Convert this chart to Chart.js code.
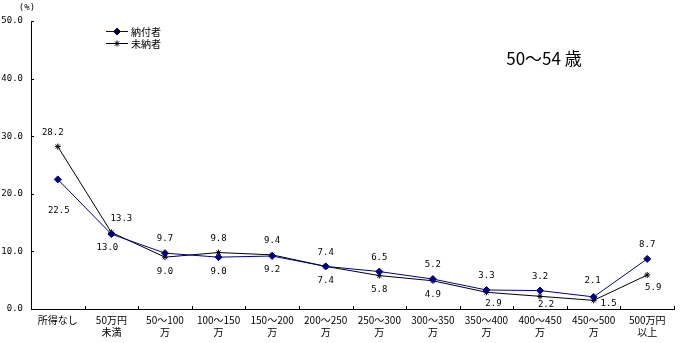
<!DOCTYPE html>
<html>
<head>
<meta charset="utf-8">
<script src="https://cdn.jsdelivr.net/npm/chart.js@4/dist/chart.umd.min.js"></script>
<style>
    html, body { margin: 0; padding: 0; background: #fff; }
    #wrap { width: 680px; height: 343px; position: relative; }
</style>
</head>
<body>
<div id="wrap"><canvas id="lineChart"></canvas></div>
<script>

const categories = [
    ['所得なし'], ['50万円', '未満'], ['50～100', '万'], ['100～150', '万'],
    ['150～200', '万'], ['200～250', '万'], ['250～300', '万'], ['300～350', '万'],
    ['350～400', '万'], ['400～450', '万'], ['450～500', '万'], ['500万円', '以上']
];
const paid = [22.5, 13.0, 9.7, 9.0, 9.2, 7.4, 6.5, 5.2, 3.3, 3.2, 2.1, 8.7];
const unpaid = [28.2, 13.3, 9.0, 9.8, 9.4, 7.4, 5.8, 4.9, 2.9, 2.2, 1.5, 5.9];
const seriesNames = ['納付者', '未納者'];
const yTicks = [0, 10, 20, 30, 40, 50];
const title = '50～54 歳';

const FONT = '"Noto Sans CJK JP", "DejaVu Sans", sans-serif';
const NUM_FONT = '"DejaVu Sans Mono", monospace';

// a few labels sit away from their points
const labelShift = {
    '0:0': [1, 17],
    '1:0': [-5, 0],
    '1:1': [10, 0],
    '0:1': [-4, 0],
    '0:10': [-1, -2],
    '1:8': [7, -3],
    '1:9': [6, -6],
    '1:10': [15, -11],
    '1:11': [6, -1],
};

// ticks drawn inward, data labels, legend and title
const decorations = {
    id: 'decorations',
    afterDraw(chart) {
        const { ctx, chartArea, scales } = chart;
        const x = scales.x, y = scales.y;
        ctx.save();
        ctx.strokeStyle = '#000';
        ctx.lineWidth = 1;

        // y ticks
        yTicks.forEach(v => {
            const py = Math.round(y.getPixelForValue(v)) + 0.5;
            ctx.beginPath();
            ctx.moveTo(chartArea.left, py);
            ctx.lineTo(chartArea.left + 3, py);
            ctx.stroke();
        });
        // x ticks between categories
        const step = (chartArea.right - chartArea.left) / categories.length;
        for (let i = 1; i <= categories.length; i++) {
            const px = Math.round(x.getPixelForValue(i - 1) + step / 2) + 0.5;
            ctx.beginPath();
            ctx.moveTo(px, chartArea.bottom);
            ctx.lineTo(px, chartArea.bottom - 3);
            ctx.stroke();
        }

        // value labels
        ctx.fillStyle = '#000';
        ctx.font = '9px ' + NUM_FONT;
        ctx.textAlign = 'center';
        ctx.textBaseline = 'middle';
        chart.data.datasets.forEach((ds, d) => {
            const other = chart.data.datasets[1 - d].data;
            const meta = chart.getDatasetMeta(d);
            ds.data.forEach((v, i) => {
                const pt = meta.data[i];
                const above = d === 0 ? v >= other[i] : v > other[i];
                const shift = labelShift[d + ':' + i] || [0, 0];
                const ly = pt.y + (above ? -14 : 14) + shift[1];
                ctx.fillText(v.toFixed(1), pt.x + shift[0], ly);
            });
        });

        // legend
        ctx.font = '10px ' + FONT;
        ctx.textAlign = 'left';
        chart.data.datasets.forEach((ds, d) => {
            const ly = 31 + d * 12;
            ctx.strokeStyle = ds.borderColor;
            ctx.beginPath();
            ctx.moveTo(106, ly + 0.5);
            ctx.lineTo(128, ly + 0.5);
            ctx.stroke();
            Chart.helpers.drawPoint(ctx, {
                pointStyle: ds.pointStyle,
                radius: ds.pointRadius,
                borderWidth: 1
            }, 117, ly + 0.5);
            ctx.fillStyle = '#000';
            ctx.fillText(ds.label, 131, ly + 1);
        });

        // title and unit
        ctx.font = '17px ' + FONT;
        ctx.textAlign = 'center';
        ctx.fillText(title, 544, 59);
        ctx.font = '9px ' + NUM_FONT;
        ctx.fillText('(%)', 27, 8);
        ctx.restore();
    }
};

const chartLine = new Chart(document.getElementById('lineChart'), {
    type: 'line',
    data: {
        labels: categories,
        datasets: [
            {
                label: seriesNames[0],
                data: paid,
                borderColor: '#000080',
                backgroundColor: '#000080',
                borderWidth: 1,
                pointStyle: 'rectRot',
                pointRadius: 3.5,
                pointBorderWidth: 1,
                tension: 0
            },
            {
                label: seriesNames[1],
                data: unpaid,
                borderColor: '#000',
                backgroundColor: '#000',
                borderWidth: 1,
                pointStyle: 'star',
                pointRadius: 3,
                pointBorderWidth: 1,
                tension: 0
            }
        ]
    },
    options: {
        responsive: true,
        maintainAspectRatio: false,
        animation: false,
        layout: {
            padding: { top: 21, right: 6, left: 0, bottom: 0 }
        },
        plugins: {
            legend: { display: false },
            tooltip: { enabled: false }
        },
        scales: {
            x: {
                offset: true,
                grid: { display: false, drawTicks: false },
                border: { color: '#000', width: 1 },
                ticks: {
                    color: '#000',
                    autoSkip: false,
                    maxRotation: 0,
                    padding: 5,
                    font: { family: FONT, size: 10, lineHeight: 1.2 }
                },
                afterFit(scale) { scale.height = 34; }
            },
            y: {
                min: 0,
                max: 50,
                grid: { display: false, drawTicks: false },
                border: { color: '#000', width: 1 },
                ticks: {
                    stepSize: 10,
                    color: '#000',
                    padding: 8,
                    font: { family: NUM_FONT, size: 9 },
                    callback: v => v.toFixed(1)
                },
                afterFit(scale) { scale.width = 31; }
            }
        }
    },
    plugins: [decorations]
});

</script>
</body>
</html>
